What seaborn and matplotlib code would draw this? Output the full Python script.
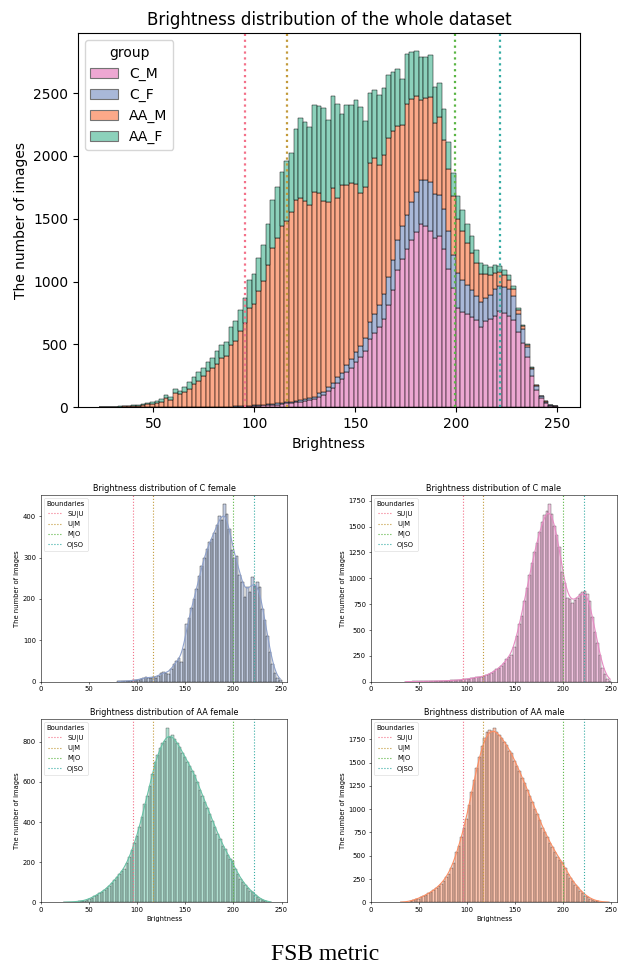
import numpy as np
import pandas as pd
import matplotlib
matplotlib.use("Agg")
import matplotlib.pyplot as plt
import seaborn as sns

groups = ["C_M", "C_F", "AA_M", "AA_F"]
group_colors = {"C_M": "#e78ac3", "C_F": "#8da0cb", "AA_M": "#fc8d62", "AA_F": "#66c2a5"}

boundary_names = ["SU|U", "U|M", "M|O", "O|SO"]
boundary_values = [95.5, 116.3, 199.2, 221.6]
boundary_colors = ["#f37189", "#c29a3a", "#5ab543", "#36ada4"]

# whole dataset, 99 shared bins between these limits
whole_range = (23.0, 250.2)
whole_c_m = [0, 0, 0, 0, 0, 0, 0, 0, 0,
             0, 0, 0, 1, 1, 1, 1, 1, 1, 2, 2, 2,
             2, 2, 3, 3, 3, 3, 4, 4, 5, 6,
             8, 10, 12, 14, 16, 18, 20, 22, 25, 30,
             33, 38, 45,
             48, 55, 62, 85, 96, 131, 157, 192, 224, 277, 309, 357, 397, 450, 540, 590, 640,
             700, 810, 930, 1090, 1183, 1260, 1330, 1395, 1460, 1440, 1400, 1350, 1360, 1260, 1100, 950,
             790, 755, 740, 715, 695, 640, 690, 700, 725, 764, 751, 730, 698, 600, 511, 400, 250, 140,
             72, 37, 13, 8]
whole_c_f = [0, 0, 0, 0, 0, 0, 0, 0, 0, 0, 0, 0, 0, 0, 0, 0, 0, 0, 0, 0, 0, 0, 0, 0,
             1, 1, 2, 2, 2, 3, 3,
             3, 4, 4, 5, 5, 6, 6, 8, 9, 8,
             10, 12, 14,
             18, 22, 20, 25, 28, 30, 38,
             45, 48, 62, 75, 80, 92, 105, 140, 150, 170,
             200, 225, 240, 245, 260, 270, 300, 320, 345, 370,
             390, 350, 330, 320, 300,
             260, 280, 260, 230, 215, 190, 200, 180, 190, 215, 200, 210, 215, 190, 140, 110, 80, 55,
             32, 16, 7, 3, 1]
whole_aa_m = [2, 2, 3, 4, 6, 7, 8, 10, 14, 19, 25,
              24, 33, 43, 69, 59, 112, 104, 117, 144, 182,
              208, 245, 286, 311, 340, 390, 402, 490, 519,
              597, 658, 776, 807, 909, 984, 1111, 1243, 1320, 1411, 1443, 1510, 1601, 1603,
              1575, 1536, 1630, 1592, 1517, 1475, 1548, 1426, 1497, 1430, 1398, 1337, 1213,
              1200, 1263, 1243, 1119, 1109, 1107, 1025, 905, 800, 880,
              820, 760, 640, 650, 680, 560, 620, 550, 500, 470,
              430, 390, 340, 300, 260, 220, 190, 160, 130, 110, 90, 70, 50, 35, 25, 16, 10, 6,
              4, 2, 1, 0]
whole_aa_f = [1, 2, 2, 2, 4, 5, 6, 7, 8, 10, 12,
              15, 18, 22, 27, 20, 32, 27, 40, 53,
              60, 67, 65, 75, 80, 100, 100, 110, 145, 160,
              170, 200, 220, 240, 260, 290, 320, 380, 400, 430, 480, 470, 560, 640,
              626, 618, 693, 693, 741, 652, 732, 751, 565, 639, 621, 674, 685,
              520, 560, 545, 560, 530, 505, 470, 455, 370, 400,
              380, 360, 345, 330, 330, 290, 270, 245, 215, 185,
              180, 165, 145, 130, 110, 90, 75, 70, 60, 52, 42, 35, 25, 16, 10, 6, 4, 2,
              1, 1, 0, 0]

# per-group charts, each with its own bins
c_f_range = (79.0, 250.0)
c_f_counts = [1, 1, 1, 2, 2, 2, 3, 4, 5, 6,
              9, 12, 9, 10, 12, 10, 14, 20, 24, 22,
              18, 30, 42, 50, 58, 48, 78, 140, 155, 178,
              200, 225, 255, 280, 300, 320, 338, 345, 360, 380,
              400, 390, 430, 405, 370, 318, 300, 305, 258, 240,
              205, 228, 218, 252, 232, 240, 230, 175, 150, 110,
              72, 42, 20, 8, 3]
c_m_range = (35.0, 250.0)
c_m_counts = [1, 1, 1, 2, 2, 3, 3, 3, 4, 5,
              5, 6, 6, 7, 8, 8, 10, 10, 12, 13,
              15, 16, 19, 22, 25, 28, 33, 38, 44, 42,
              46, 55, 65, 70, 82, 100, 122, 128, 148, 185,
              215, 240, 262, 340, 440, 560, 640, 780, 910, 1030,
              1150, 1250, 1345, 1450, 1545, 1610, 1650, 1720, 1620, 1510,
              1420, 1300, 1060, 950, 810, 800, 760, 790, 810, 850,
              870, 880, 850, 780, 630, 480, 370, 260, 130, 70,
              30, 10]
aa_f_range = (23.0, 240.0)
aa_f_counts = [1, 1, 2, 2, 3, 4, 5, 6, 9, 12,
               18, 22, 30, 38, 45, 50, 60, 70, 82, 98,
               110, 125, 140, 155, 168, 195, 225, 262, 295, 330,
               375, 425, 490, 530, 580, 640, 700, 735, 770, 795,
               805, 870, 825, 835, 815, 795, 775, 745, 725, 700,
               680, 655, 635, 600, 560, 530, 500, 468, 438, 405,
               375, 340, 315, 280, 265, 235, 215, 205, 165, 140,
               118, 102, 85, 72, 58, 50, 36, 25, 16, 10,
               6, 3, 1]
aa_m_range = (30.0, 248.0)
aa_m_counts = [2, 3, 5, 8, 12, 25, 35, 40, 55, 68,
               82, 96, 110, 132, 150, 172, 200, 232, 270, 305,
               370, 420, 540, 600, 700, 800, 900, 1050, 1180, 1310,
               1440, 1560, 1680, 1760, 1830, 1850, 1845, 1875, 1830, 1800,
               1760, 1720, 1690, 1630, 1600, 1520, 1460, 1410, 1340, 1280,
               1205, 1140, 1080, 1000, 950, 880, 800, 750, 700, 640,
               590, 545, 490, 460, 430, 370, 305, 260, 230, 190,
               160, 125, 100, 72, 58, 40, 26, 18, 12, 7,
               5, 3, 2]


def bin_mids(rng, n):
    edges = np.linspace(rng[0], rng[1], n + 1)
    return (edges[:-1] + edges[1:]) / 2


fig = plt.figure(figsize=(6.18, 9.66), dpi=100)

# ---- whole dataset, stacked (seaborn puts the first hue level on top,
# so the order is reversed to get C_M at the bottom)
n_bins = len(whole_c_m)
mids = bin_mids(whole_range, n_bins)
whole = {"C_M": whole_c_m, "C_F": whole_c_f, "AA_M": whole_aa_m, "AA_F": whole_aa_f}
df = pd.concat([pd.DataFrame({"Brightness": mids, "group": g, "n": whole[g]}) for g in groups],
               ignore_index=True)

ax = fig.add_axes([0.1262, 0.5784, 0.8123, 0.3872])
sns.histplot(data=df, x="Brightness", hue="group", weights="n", bins=n_bins,
             binrange=whole_range, multiple="stack", hue_order=groups[::-1],
             palette=group_colors, ax=ax)
for val, col in zip(boundary_values, boundary_colors):
    ax.axvline(val, color=col, ls=":", lw=1.6)
old = ax.get_legend()
handles = list(old.legend_handles)[::-1]
labels = [t.get_text() for t in old.get_texts()][::-1]
old.remove()
for h in handles:
    h.set_edgecolor("0.45")
    h.set_linewidth(0.8)
ax.legend(handles, labels, title="group", loc="upper left")
ax.set_xlim(12.6, 261.3)
ax.set_title("Brightness distribution of the whole dataset", fontsize=12)
ax.set_xlabel("Brightness", fontsize=10)
ax.set_ylabel("The number of images", fontsize=10)

# ---- one chart per group
panels = [
    ("C female", "C_F", c_f_counts, c_f_range, [0.0659, 0.2943, 0.399, 0.1933], False),
    ("C male", "C_M", c_m_counts, c_m_range, [0.5998, 0.2943, 0.399, 0.1933], False),
    ("AA female", "AA_F", aa_f_counts, aa_f_range, [0.0659, 0.0659, 0.399, 0.1898], True),
    ("AA male", "AA_M", aa_m_counts, aa_m_range, [0.5998, 0.0659, 0.399, 0.1898], True),
]
fs = 4.9
for name, g, counts, rng, rect, bottom_row in panels:
    sax = fig.add_axes(rect)
    m = bin_mids(rng, len(counts))
    sns.histplot(x=m, weights=counts, bins=len(counts), binrange=rng, kde=True,
                 color=group_colors[g], ax=sax,
                 kde_kws={"bw_adjust": 0.3}, line_kws={"lw": 0.8})
    for lab, val, col in zip(boundary_names, boundary_values, boundary_colors):
        sax.axvline(val, color=col, ls=":", lw=0.8, label=lab)
    leg = sax.legend(title="Boundaries", loc="upper left", fontsize=fs, title_fontsize=fs)
    leg.get_frame().set_linewidth(0.4)
    sax.set_xlim(0, 256)
    sax.set_title(f"Brightness distribution of {name}", fontsize=5.9, pad=3)
    sax.set_ylabel("The number of images", fontsize=fs, labelpad=2)
    sax.set_xlabel("Brightness" if bottom_row else "", fontsize=fs, labelpad=2)
    sax.tick_params(labelsize=fs, length=1.7, width=0.4, pad=1.7)
    for sp in sax.spines.values():
        sp.set_linewidth(0.4)

fig.text(0.526, 0.0114, "FSB metric", ha="center", va="center",
         family="Liberation Serif", fontsize=17)

fig.savefig("out.png", dpi=100)
